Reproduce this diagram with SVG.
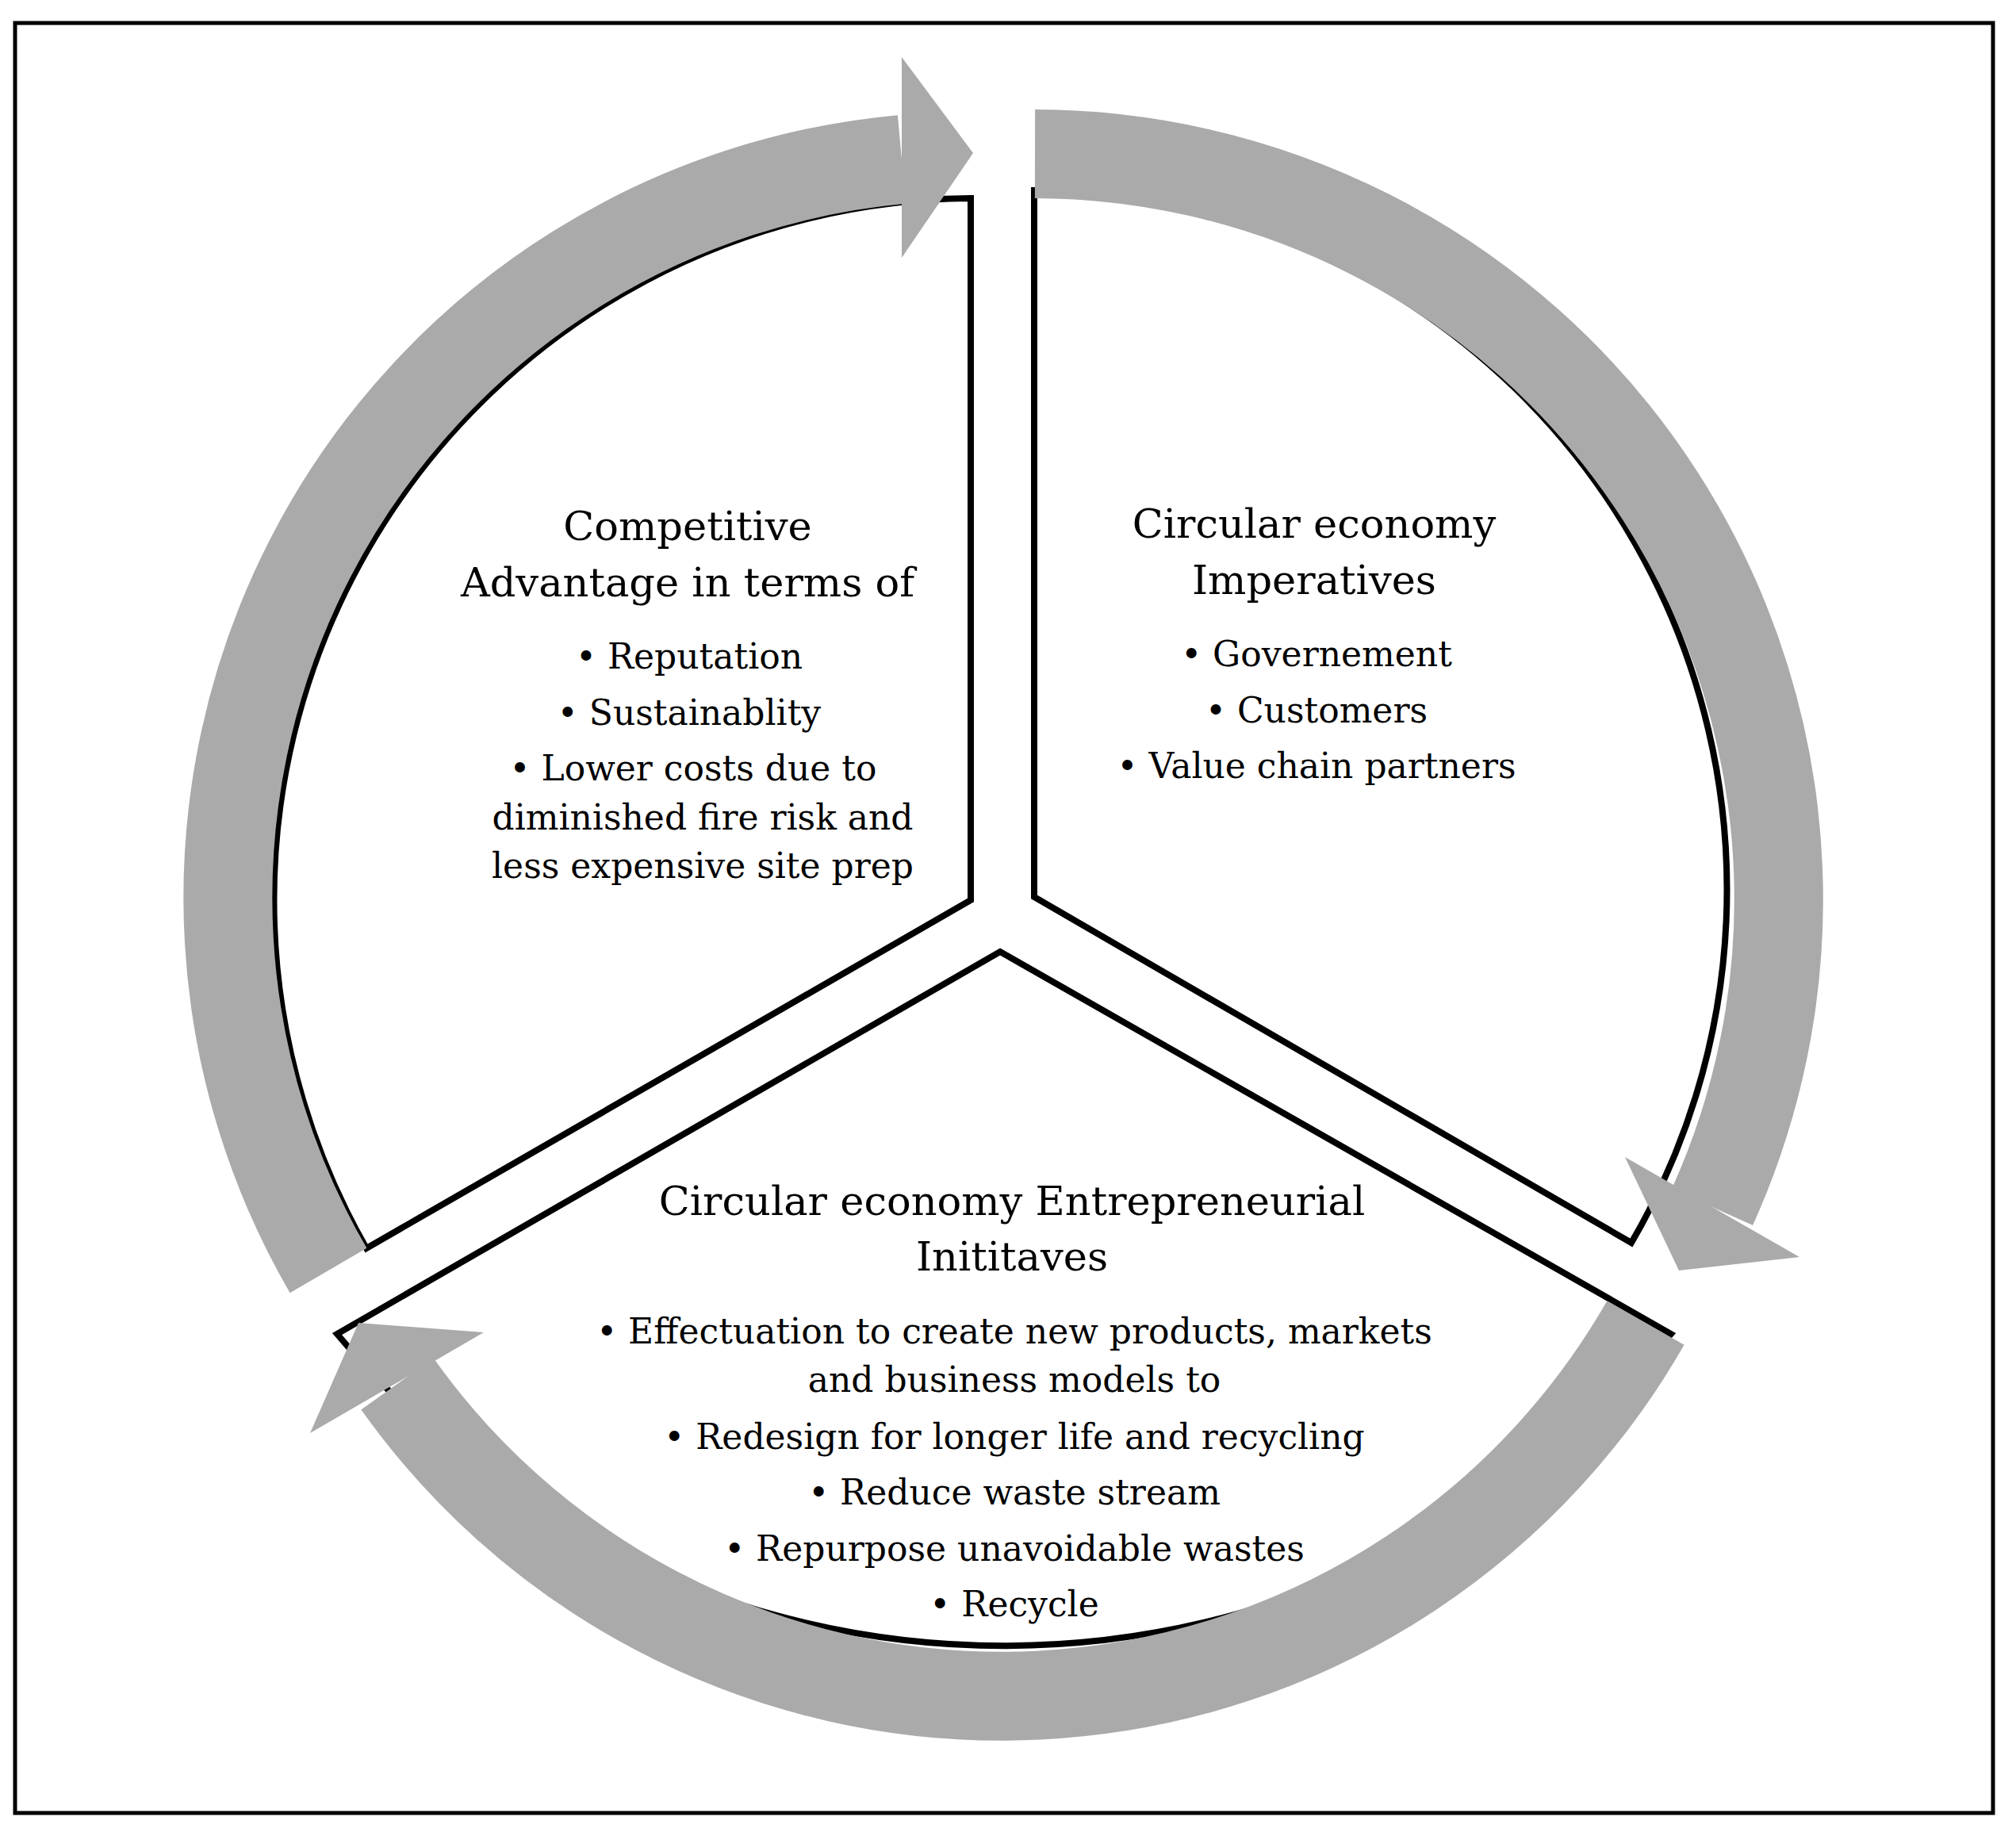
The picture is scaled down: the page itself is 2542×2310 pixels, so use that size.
<svg xmlns="http://www.w3.org/2000/svg" width="2542" height="2310" viewBox="0 0 2542 2310">
<style>
.w{fill:#fff;stroke:#000;stroke-width:8;stroke-linejoin:miter}
.r{fill:none;stroke:#aaaaaa;stroke-width:112}
.h{fill:#aaaaaa}
text{font-family:"DejaVu Serif","Liberation Serif",serif;fill:#000;text-anchor:middle}
.t{font-size:51px}
.b{font-size:44px}
</style>
<rect x="0" y="0" width="2542" height="2310" fill="#fff"/>
<rect x="19" y="29" width="2494" height="2257" fill="none" stroke="#000" stroke-width="5"/>
<g id="wedge-left"><path class="w" d="M1224,1135 L1224,250 A885,885 0 0 0 462,1574 Z"/></g>
<g id="wedge-right"><path class="w" d="M1304,1131 L1304,240 A882,882 0 0 1 2057,1567 Z"/></g>
<g id="wedge-bottom"><path class="w" d="M1261,1200 L2107,1682 A1096,1096 0 0 1 425,1682 Z"/></g>
<g id="connectors">
<path class="r" d="M414,1602 A935,935 0 0 1 1137,201"/>
<polygon class="h" points="1227,193 1137,72 1137,325"/>
<path class="r" d="M1305,194 A940,940 0 0 1 2159,1522"/>
<polygon class="h" points="2117,1602 2049,1459 2269,1585"/>
<path class="r" d="M2075,1668 A935,935 0 0 1 501,1745"/>
<polygon class="h" points="452,1668 610,1680 391,1807"/>
</g>
<g id="text-left">
<text class="t" x="867" y="681">Competitive</text>
<text class="t" x="867" y="752">Advantage in terms of</text>
<text class="b" x="869" y="843">• Reputation</text>
<text class="b" x="869" y="914">• Sustainablity</text>
<text class="b" x="874" y="984">• Lower costs due to</text>
<text class="b" x="886" y="1046">diminished fire risk and</text>
<text class="b" x="886" y="1107">less expensive site prep</text>
</g>
<g id="text-right">
<text class="t" x="1657" y="678">Circular economy</text>
<text class="t" x="1657" y="749">Imperatives</text>
<text class="b" x="1660" y="840">• Governement</text>
<text class="b" x="1660" y="911">• Customers</text>
<text class="b" x="1660" y="981">• Value chain partners</text>
</g>
<g id="text-bottom">
<text class="t" x="1276" y="1532">Circular economy Entrepreneurial</text>
<text class="t" x="1276" y="1602">Inititaves</text>
<text class="b" x="1279" y="1694">• Effectuation to create new products, markets</text>
<text class="b" x="1279" y="1755">and business models to</text>
<text class="b" x="1279" y="1827">• Redesign for longer life and recycling</text>
<text class="b" x="1279" y="1897">• Reduce waste stream</text>
<text class="b" x="1279" y="1968">• Repurpose unavoidable wastes</text>
<text class="b" x="1279" y="2038">• Recycle</text>
</g>
</svg>
